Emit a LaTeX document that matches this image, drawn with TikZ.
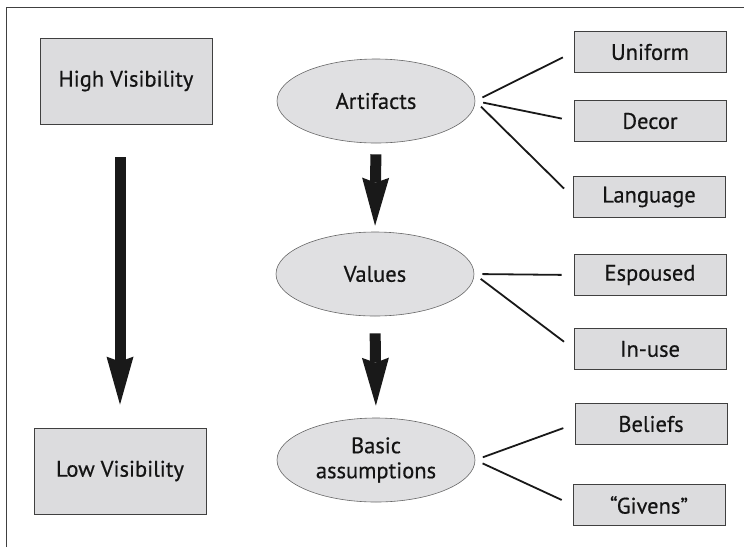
\documentclass[tikz,border=0pt]{standalone}
\usepackage{fontspec}
\setmainfont{PT Sans}
\newfontfamily\labelfont{PT Sans}[FakeBold=0.5]
\usetikzlibrary{arrows.meta,shapes.geometric}

\definecolor{boxgray}{RGB}{220,220,222}
\definecolor{ovalgray}{RGB}{224,224,226}

\begin{document}
\begin{tikzpicture}[
    x=1pt, y=-1pt,
    every node/.style = {
      align=center,
      text=black!92,
      font=\labelfont\fontsize{22.5}{25}\selectfont
    },
    visbox/.style = {
      shape=rectangle,
      draw=black!75,
      line width=0.8pt,
      fill=boxgray,
      minimum width=172pt,
      minimum height=86pt
    },
    layer/.style = {
      shape=ellipse,
      draw=black!60,
      line width=0.6pt,
      fill=ovalgray,
      inner sep=0pt,
      minimum width=198pt,
      minimum height=84pt
    },
    itembox/.style = {
      shape=rectangle,
      draw=black!75,
      line width=0.8pt,
      fill=boxgray,
      minimum width=152pt,
      minimum height=41pt
    },
    link/.style = {
      draw,
      line width=1.8pt,
      black!90,
      shorten <=8pt,
      shorten >=12pt
    },
    bigarrow/.style = {
      line width=11pt,
      black!90,
      -{Stealth[width=27pt,length=48pt,inset=5pt,line width=0pt]}
    }
  ]

    \useasboundingbox (0,0) rectangle (744,547);

    % Frame (top and left only)
    \draw[black!75, line width=0.8pt] (6,547) -- (6,7) -- (744,7);

    % Visibility scale
    \node[visbox] (high) at (126, 81) {High Visibility};
    \node[visbox] (low)  at (120,471) {Low Visibility};

    % Levels
    \node[layer] (artifacts)   at (376,101) {Artifacts};
    \node[layer] (values)      at (375,274) {Values};
    \node[layer] (assumptions) at (376,460) {Basic\\assumptions};

    % Items on the right
    \node[itembox] (uniform)  at (650, 52) {Uniform};
    \node[itembox] (decor)    at (650,121) {Decor};
    \node[itembox] (language) at (649,197) {Language};
    \node[itembox] (espoused) at (650,275) {Espoused};
    \node[itembox] (inuse)    at (650,349) {In-use};
    \node[itembox] (beliefs)  at (651,424) {Beliefs};
    \node[itembox] (givens)   at (649,505) {“Givens”};

    % Heavy arrows
    \draw[bigarrow, shorten <=33pt, shorten >=23pt] (high.south -| low.north) -- (low.north);
    \draw[bigarrow, shorten <=11pt, shorten >=6pt] (artifacts.south) -- (values.north);
    \draw[bigarrow, shorten <=17pt, shorten >=12pt] (values.south) -- (assumptions.north);

    % Links
    \draw[link] (artifacts.east) -- (uniform.west);
    \draw[link] (artifacts.east) -- (decor.west);
    \draw[link] (artifacts.east) -- (language.west);
    \draw[link] (values.east) -- (espoused.west);
    \draw[link] (values.east) -- (inuse.west);
    \draw[link] (assumptions.east) -- (beliefs.west);
    \draw[link] (assumptions.east) -- (givens.west);

  \end{tikzpicture}
\end{document}
